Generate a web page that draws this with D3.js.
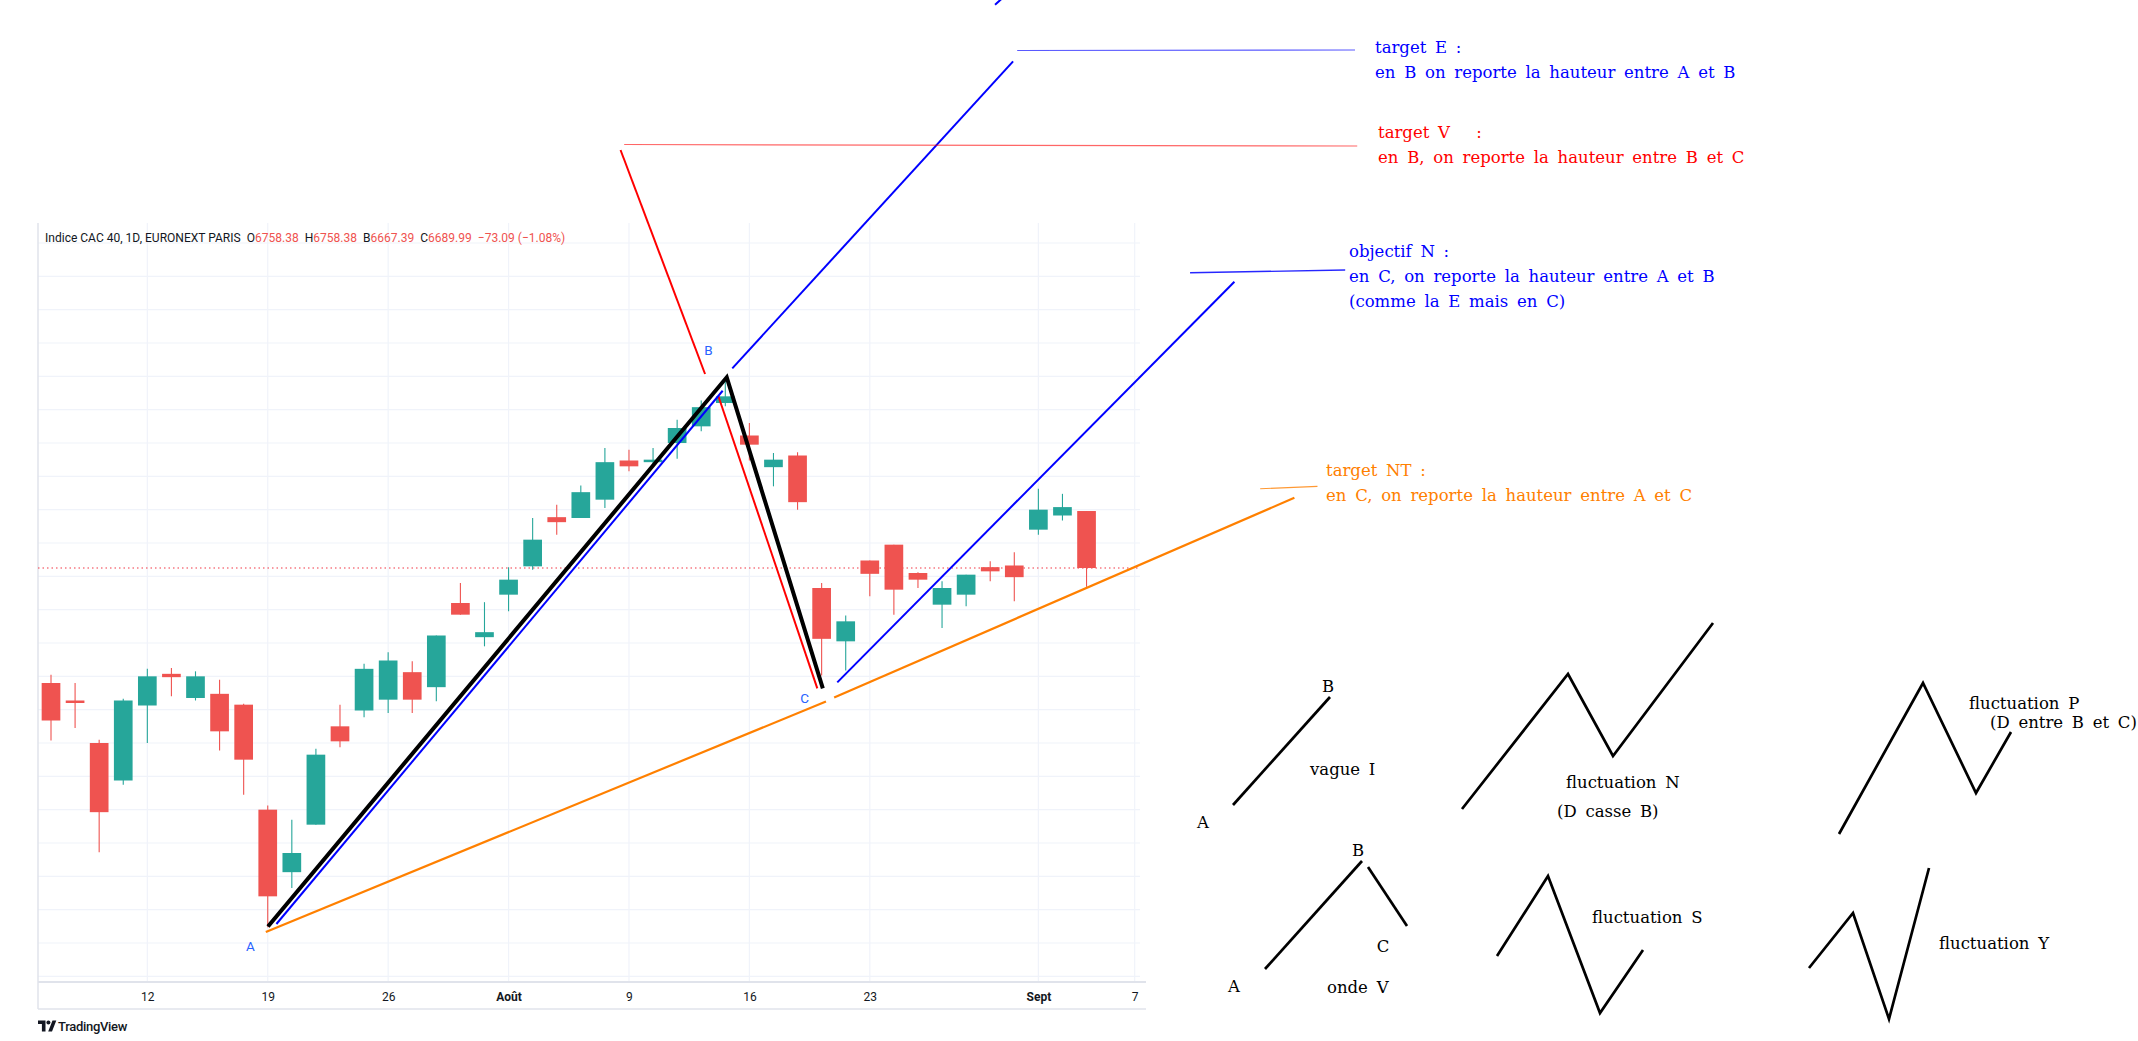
<!DOCTYPE html>
<html>
<head>
<meta charset="utf-8">
<script src="https://cdn.jsdelivr.net/npm/d3@7"></script>
<style>
  body { margin: 0; background: #fff; }
  svg { display: block; }
  .note, .sketch-label { font-family: "DejaVu Serif", serif; font-size: 16.5px; word-spacing: 3.5px; white-space: pre; }
</style>
</head>
<body>
<div id="chart"></div>
<script>
// daily candles, CAC 40, 6 Jul -> 3 Sept 2021
const dates = ["2021-07-06","2021-07-07","2021-07-08","2021-07-09","2021-07-12","2021-07-13","2021-07-14","2021-07-15","2021-07-16",
  "2021-07-19","2021-07-20","2021-07-21","2021-07-22","2021-07-23","2021-07-26","2021-07-27","2021-07-28","2021-07-29","2021-07-30",
  "2021-08-02","2021-08-03","2021-08-04","2021-08-05","2021-08-06","2021-08-09","2021-08-10","2021-08-11","2021-08-12","2021-08-13",
  "2021-08-16","2021-08-17","2021-08-18","2021-08-19","2021-08-20","2021-08-23","2021-08-24","2021-08-25","2021-08-26","2021-08-27",
  "2021-08-30","2021-08-31","2021-09-01","2021-09-02","2021-09-03"];
const opens  = [6552,6531,6480,6435,6525,6563,6534,6539,6526, 6400,6325,6382,6500,6519,6532,6565,6547,6648,6607,
  6658,6692,6751,6750,6772,6819,6817,6840,6860,6888, 6849,6811,6825,6666,6602,6699,6718,6684,6646,6658, 6691,6693,6736,6753,6758.38];
const highs  = [6562,6552,6484,6533,6569,6570,6566,6556,6527, 6405,6388,6473,6526,6575,6589,6578,6609,6672,6649,
  6691,6750,6766,6789,6834,6832,6834,6868,6891,6914, 6864,6828,6829,6672,6633,6699,6718,6685,6674,6682, 6698,6709,6785,6779,6758.38];
const lows   = [6483,6498,6349,6430,6480,6536,6531,6471,6418, 6259,6306,6382,6475,6511,6516,6516,6530,6634,6596,
  6638,6688,6730,6750,6762,6806,6811,6821,6854,6884, 6819,6788,6760,6561,6567,6656,6634,6666,6618,6644, 6674,6650,6730,6747,6667.39];
const closes = [6507,6528,6397,6531,6560,6559,6560,6494,6460, 6296,6348,6466,6482,6569,6579,6532,6609,6634,6613,
  6676,6724,6745,6781,6817,6812,6820,6858,6883,6896, 6838,6820,6769,6605,6626,6683,6664,6676,6666,6682, 6686,6679,6760,6763.08,6689.99];

// x axis labels (bar index -> label)
const tickIndex  = [4, 9, 14, 19, 24, 29, 34, 41, 45];
const tickLabels = ["12", "19", "26", "Août", "9", "16", "23", "Sept", "7"];
const monthTicks = ["Août", "Sept"];

// hand drawn tools on the chart, anchors as [bar index, price]
const waveABC   = [[9.01, 6259.8], [28.06, 6918.8], [32.05, 6545.6]];
const targetE   = [[[9.36, 6262.8], [27.89, 6902.7]], [[28.29, 6929.6], [39.95, 7297.9]], [[39.2, 7366], [39.53, 7374.4]]];
const targetV   = [[[23.65, 7191.6], [27.16, 6922.8]], [[27.71, 6896.4], [31.82, 6545.6]]];
const objectifN = [[[32.65, 6552.8], [49.14, 7033.5]]];
const targetNT  = [[[8.92, 6253.2], [32.18, 6529.8]], [[32.52, 6534.6], [51.63, 6774.3]]];
const leaders = {
  E:  [[40.12, 7311.0], [54.15, 7311.6]],
  V:  [[23.8, 7198.2], [54.24, 7196.4]],
  N:  [[47.3, 7044.3], [53.74, 7047.6]],
  NT: [[50.21, 6785.1], [52.59, 6788.0]]
};
const pointLabels = [["A", 8.28, 6236.4], ["B", 27.3, 6951.6], ["C", 31.29, 6534]];

const notes = [
  { lines: ["target E :", "en B on reporte la hauteur entre A et B"], color: "blue" },
  { lines: ["target V   :", "en B, on reporte la hauteur entre B et C"], color: "red" },
  { lines: ["objectif N :", "en C, on reporte la hauteur entre A et B", "(comme la E mais en C)"], color: "blue" },
  { lines: ["target NT :", "en C, on reporte la hauteur entre A et C"], color: "orange" }
];

// little pattern sketches on the right (page units)
const sketches = [
  [[1233, 805], [1330, 697]],
  [[1462, 809], [1568, 674], [1613, 756], [1713, 623]],
  [[1265, 969], [1362, 861]],
  [[1368, 867], [1407, 926]],
  [[1497, 956], [1548, 876], [1600, 1013], [1643, 950]],
  [[1839, 834], [1923, 683], [1976, 793], [2011, 732]],
  [[1809, 968], [1853, 913], [1889, 1019], [1929, 868]]
];
const sketchLabels = [
  ["B", 1328, 692, "middle"], ["A", 1203, 828, "middle"], ["vague I", 1310, 775, "start"],
  ["fluctuation N", 1566, 788, "start"], ["(D casse B)", 1557, 817, "start"],
  ["B", 1358, 856, "middle"], ["C", 1383, 952, "middle"], ["A", 1234, 992, "middle"], ["onde V", 1327, 993, "start"],
  ["fluctuation S", 1592, 923, "start"],
  ["fluctuation P", 1969, 709, "start"], ["(D entre B et C)", 1990, 728, "start"],
  ["fluctuation Y", 1939, 949, "start"]
];

const W = 2138, H = 1041;
const plot = { left: 38, right: 1140, top: 223, bottom: 982 };
const colors = { up: "#26a69a", down: "#ef5350", blue: "#0000ff", red: "#ff0000", orange: "#ff8000", label: "#2962ff", text: "#131722" };

const svg = d3.select("#chart").append("svg")
  .attr("width", W).attr("height", H)
  .style("font-family", "Roboto, sans-serif");

const x = d3.scaleLinear().domain([-0.54, 45.22]).range([plot.left, plot.right]);
const y = d3.scaleLinear().domain([6193.2, 7104]).range([plot.bottom, plot.top]);
const step = x(1) - x(0);
const bodyW = step * 0.776;

// grid
const grid = svg.append("g").attr("stroke", "#f0f3fa").attr("stroke-width", 1.2);
grid.selectAll(".h").data(d3.range(6200, 7100, 40)).join("line")
  .attr("x1", plot.left).attr("x2", plot.right)
  .attr("y1", d => y(d)).attr("y2", d => y(d));
grid.selectAll(".v").data(tickIndex).join("line")
  .attr("x1", d => x(d)).attr("x2", d => x(d))
  .attr("y1", plot.top).attr("y2", plot.bottom);

// frame lines
svg.append("line").attr("x1", plot.left).attr("x2", plot.left).attr("y1", plot.top).attr("y2", 1009)
  .attr("stroke", "#e0e3eb").attr("stroke-width", 1.5);
svg.append("line").attr("x1", plot.left).attr("x2", plot.right + 6).attr("y1", 1009).attr("y2", 1009)
  .attr("stroke", "#e0e3eb").attr("stroke-width", 1.5);

// x axis
const xAxis = d3.axisBottom(x)
  .tickValues(tickIndex)
  .tickFormat((d, k) => tickLabels[k])
  .tickSize(0).tickPadding(10);
const axisG = svg.append("g")
  .attr("transform", `translate(0,${plot.bottom})`)
  .call(xAxis);
axisG.select(".domain").attr("stroke", "#e0e3eb").attr("stroke-width", 2)
  .attr("d", `M${plot.left},0H${plot.right + 6}`);
axisG.selectAll("text")
  .style("font-family", "Roboto, sans-serif")
  .style("font-size", "12px")
  .attr("fill", colors.text)
  .style("font-weight", d => monthTicks.includes(tickLabels[tickIndex.indexOf(d)]) ? 700 : 400);

// last price line
const last = closes.length - 1;
svg.append("line")
  .attr("x1", plot.left).attr("x2", plot.right)
  .attr("y1", y(closes[last])).attr("y2", y(closes[last]))
  .attr("stroke", "#f23645").attr("stroke-width", 1.2).attr("stroke-dasharray", "1.5,3");

// candles
const candles = svg.append("g").selectAll("g").data(dates).join("g")
  .attr("fill", (d, i) => closes[i] >= opens[i] ? colors.up : colors.down)
  .attr("stroke", (d, i) => closes[i] >= opens[i] ? colors.up : colors.down);
candles.append("line")
  .attr("x1", (d, i) => x(i)).attr("x2", (d, i) => x(i))
  .attr("y1", (d, i) => y(highs[i])).attr("y2", (d, i) => y(lows[i]))
  .attr("stroke-width", 1.1);
candles.append("rect")
  .attr("stroke", "none")
  .attr("x", (d, i) => x(i) - bodyW / 2).attr("width", bodyW)
  .attr("y", (d, i) => y(Math.max(opens[i], closes[i])))
  .attr("height", (d, i) => Math.max(1.5, Math.abs(y(opens[i]) - y(closes[i]))));

// drawings
const line = d3.line().x(d => x(d[0])).y(d => y(d[1]));
const draw = (segs, color, width, op = 1) => svg.append("g").selectAll("path").data(segs).join("path")
  .attr("d", line).attr("fill", "none").attr("stroke", color)
  .attr("stroke-width", width).attr("stroke-opacity", op);

draw(targetNT, colors.orange, 2.2);
draw(objectifN, colors.blue, 2);
draw(targetV, colors.red, 2);
draw(targetE, colors.blue, 2);
draw([waveABC], "#000", 4).attr("stroke-linejoin", "miter");
draw([leaders.E], colors.blue, 1.2, 0.65);
draw([leaders.V], colors.red, 1.2, 0.6);
draw([leaders.N], colors.blue, 1.4, 0.85);
draw([leaders.NT], colors.orange, 1.2, 0.8);

svg.append("g").selectAll("text").data(pointLabels).join("text")
  .attr("x", d => x(d[1])).attr("y", d => y(d[2]))
  .attr("text-anchor", "middle").attr("dominant-baseline", "central")
  .attr("fill", colors.label).style("font-size", "13.5px")
  .text(d => d[0]);

// legend line, one text squeezed horizontally to the TradingView width
const o = opens[last], h = highs[last], l = lows[last], c = closes[last];
const chg = c - closes[last - 1];
const fmt = d3.format(".2f");
const minus = s => s.replace("-", "\u2212");
const header = svg.append("text")
  .attr("x", 0).attr("y", 0)
  .style("font-size", "13px").style("white-space", "pre");
[["Indice CAC 40, 1D, EURONEXT PARIS  ", colors.text], ["O", colors.text], [fmt(o) + "  ", colors.down],
 ["H", colors.text], [fmt(h) + "  ", colors.down], ["B", colors.text], [fmt(l) + "  ", colors.down],
 ["C", colors.text], [fmt(c) + "  ", colors.down],
 [minus(fmt(chg)) + " (" + minus(fmt(chg / closes[last - 1] * 100)) + "%)", colors.down]]
  .forEach(([t, col]) => header.append("tspan").attr("fill", col).text(t));
const hw = header.node().getComputedTextLength();
header.attr("transform", `translate(45,241.5) scale(${Math.min(1, 521 / hw)},1)`);

// TradingView mark
svg.append("path").attr("fill", colors.text)
  .attr("d", "M38 1020.5h7.5v11h-3.6v-7.4H38z M48.2 1031.5l4.3-11h3.8l-4.3 11z");
svg.append("circle").attr("cx", 48.4).attr("cy", 1022.4).attr("r", 2).attr("fill", colors.text);
svg.append("text").attr("x", 58).attr("y", 1031).attr("fill", colors.text)
  .style("font-size", "13px").style("font-weight", 500).style("letter-spacing", "-0.3px")
  .text("TradingView");

// annotation texts
const noteAnchor = [[1375, 52.7], [1378, 137.7], [1349, 257.3], [1326, 475.7]];
const noteColors = { blue: colors.blue, red: colors.red, orange: colors.orange };
notes.forEach((n, k) => {
  const t = svg.append("text").attr("class", "note").attr("fill", noteColors[n.color]);
  n.lines.forEach((s, j) => t.append("tspan")
    .attr("x", noteAnchor[k][0]).attr("y", noteAnchor[k][1] + j * 25).text(s));
});

// pattern sketches
const sk = d3.line();
svg.append("g").selectAll("path").data(sketches).join("path")
  .attr("d", sk).attr("fill", "none").attr("stroke", "#000")
  .attr("stroke-width", 2.7).attr("stroke-linejoin", "miter");
svg.append("g").selectAll("text").data(sketchLabels).join("text")
  .attr("class", "sketch-label")
  .attr("x", d => d[1]).attr("y", d => d[2]).attr("text-anchor", d => d[3])
  .attr("fill", "#000").text(d => d[0]);
</script>
</body>
</html>
